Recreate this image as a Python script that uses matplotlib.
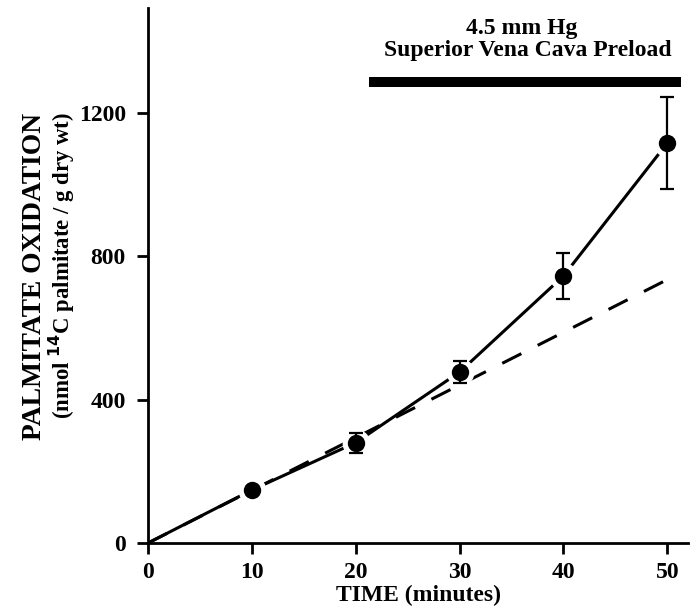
import numpy as np
import matplotlib
matplotlib.use('Agg')
import matplotlib.pyplot as plt

plt.rcParams['font.family'] = ['Liberation Serif', 'DejaVu Serif']
plt.rcParams['font.weight'] = 'bold'

# data
time_min = [0, 10, 20, 30, 40, 50]
oxidation = [0, 148, 280, 477, 745, 1116]
err_time = [20, 30, 40, 50]
err_val = [280, 477, 745, 1116]
err_sem = [28, 30, 65, 128]
pred_time = [0, 50]
pred_val = [0, 735]
preload_start, preload_end, preload_level = 21.3, 51.3, 1287

fig = plt.figure(figsize=(6.91, 6.14), dpi=100)
ax = fig.add_axes([0.2142, 0.1156, 0.7815, 0.8714])

ax.plot(time_min, oxidation, color='black', lw=2.2, zorder=1, solid_capstyle='round')
ax.plot(pred_time, pred_val, color='black', lw=2.2, dashes=(7, 6), zorder=1)
# white halo that breaks the lines around each point
ax.plot(time_min[1:], oxidation[1:], 'o', color='white', ms=19, zorder=2)
ax.errorbar(err_time, err_val, yerr=err_sem, fmt='none', ecolor='black',
            elinewidth=1.6, capsize=4.7, capthick=1.6, zorder=3)
ax.plot(time_min[1:], oxidation[1:], 'o', color='black', ms=11.5, zorder=4)

ax.hlines(preload_level, preload_start, preload_end, color='black', lw=7.2)
ax.text(36.0, 1435, '4.5 mm Hg', ha='center', va='center', fontsize=17, fontweight='bold')
ax.text(36.6, 1373, 'Superior Vena Cava Preload', ha='center', va='center',
        fontsize=17, fontweight='bold')

ax.set_xlim(0, 52)
ax.set_ylim(0, 1493)
ax.set_xticks([0, 10, 20, 30, 40, 50])
ax.set_yticks([0, 400, 800, 1200])
ax.spines['top'].set_visible(False)
ax.spines['right'].set_visible(False)
for s in ['left', 'bottom']:
    ax.spines[s].set_linewidth(2)
ax.tick_params(axis='both', width=2, length=8, labelsize=17)
ax.tick_params(axis='x', pad=6)
ax.tick_params(axis='y', pad=8)

ax.set_xlabel('TIME (minutes)', fontsize=17, fontweight='bold', labelpad=1)

# two-line y label, first line larger as in the original
fig.text(35 / 691, 0.550, 'PALMITATE OXIDATION', rotation=90, ha='center', va='center',
         fontsize=19.8, fontweight='bold')
fig.text(62 / 691, 0.568, '(nmol $^{\\mathbf{14}}$C palmitate / g dry wt)', rotation=90,
         ha='center', va='center', fontsize=16.4, fontweight='bold')

fig.savefig('out.png', dpi=100)
